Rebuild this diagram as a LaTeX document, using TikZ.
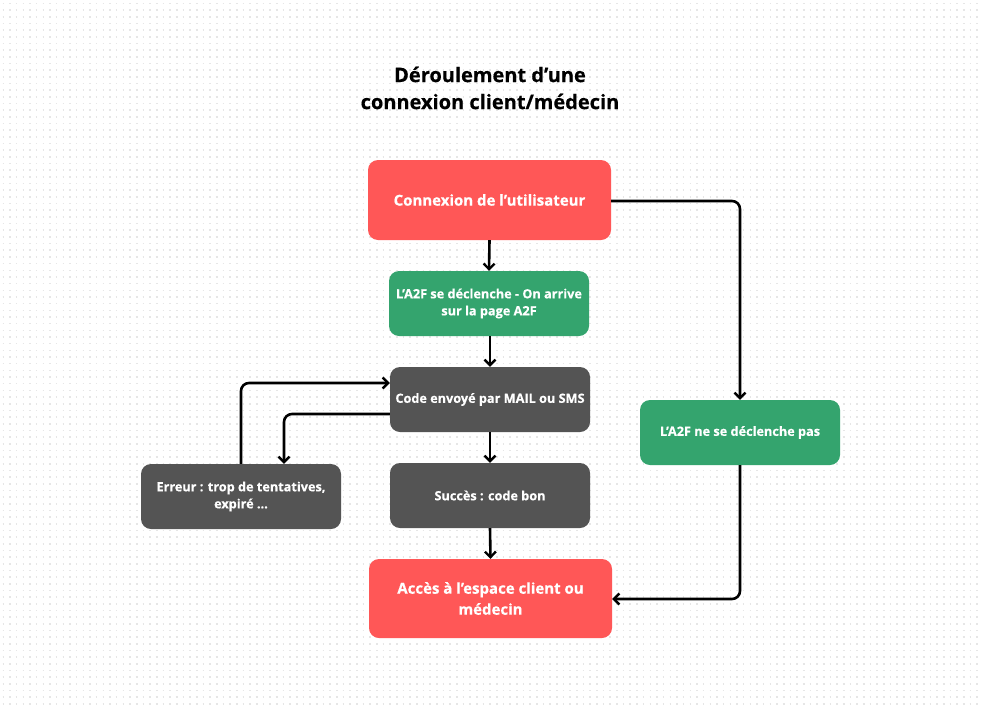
\documentclass[tikz,border=0pt]{standalone}
\usepackage{fontspec}
\setmainfont{Open Sans}[BoldFeatures={FakeBold=0.5}]
\usetikzlibrary{arrows.meta}
\definecolor{cred}{HTML}{FF5757}
\definecolor{cgreen}{HTML}{34A46E}
\definecolor{cgray}{HTML}{545454}
\definecolor{cdot}{HTML}{E6E6E6}
\begin{document}
\begin{tikzpicture}[x=1pt,y=-1pt,
  box/.style={rounded corners=10pt, text=white, font=\bfseries\fontsize{12.7}{17}\selectfont, align=center, inner sep=0pt},
  bigbox/.style={box, font=\bfseries\fontsize{15}{21}\selectfont},
  conn/.style={line width=2.6pt, black, rounded corners=8pt},
  arr/.style={conn, -{Straight Barb[length=5.5pt,width=11pt,line width=2.4pt]}}]
\useasboundingbox (0,0) rectangle (981,704);
\fill[white] (0,0) rectangle (981,704);
\foreach \j in {0,...,105} {
  \draw[cdot, line width=1.6pt, dash pattern=on 1.6pt off 5.07pt] (2.5,3.5+\j*6.67) -- (981,3.5+\j*6.67);
}
\node[font=\bfseries\fontsize{20}{27}\selectfont, align=center] (title) at (490,88) {Déroulement d’une\\connexion client/médecin};
\node[bigbox, fill=cred, minimum width=243pt, minimum height=80pt] (n1) at (489.5,200) {Connexion de l’utilisateur};
\node[box, fill=cgreen, minimum width=200pt, minimum height=65pt] (n2) at (489,303.5) {L’A2F se déclenche - On arrive\\sur la page A2F};
\node[box, fill=cgray, minimum width=200pt, minimum height=65pt] (n3) at (490,399.5) {Code envoyé par MAIL ou SMS};
\node[box, fill=cgray, minimum width=200pt, minimum height=65pt] (n4) at (241,496.5) {Erreur : trop de tentatives,\\expiré ...};
\node[box, fill=cgray, minimum width=200pt, minimum height=65pt] (n5) at (490,495.5) {Succès : code bon};
\node[box, fill=cgreen, minimum width=200pt, minimum height=65pt] (n6) at (740,432.5) {L’A2F ne se déclenche pas};
\node[bigbox, fill=cred, minimum width=243pt, minimum height=79pt] (n7) at (490.5,598.5) {Accès à l’espace client ou\\médecin};
\draw[arr] (n1.south) -- (n2.north);
\draw[arr] (n2.south -| n3.north) -- (n3.north);
\draw[arr] (n3.south) -- (n5.north);
\draw[arr] (n5.south) -- (n7.north);
\draw[arr] (n1.east |- 0,201) -| (n6.north);
\draw[arr] (n6.south) |- (n7.east |- 0,599);
\draw[arr] (n4.north) |- (n3.west |- 0,383);
\draw[arr] (n3.west |- 0,414) -| (n4.north -| 284,0);
\end{tikzpicture}
\end{document}
